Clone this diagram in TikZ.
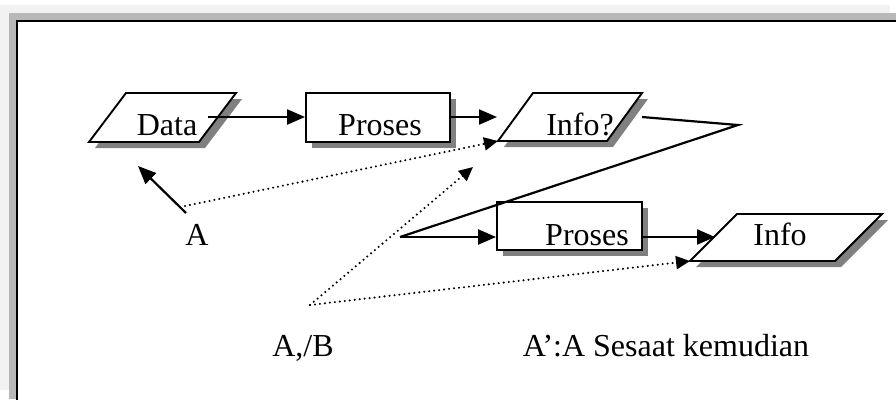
\documentclass[tikz,border=0pt]{standalone}
\usepackage{fontspec}
\setmainfont{Liberation Serif}
\usetikzlibrary{arrows.meta}

% parallelogram with drop shadow: name, bottom-left x, bottom y, width, slant, height
\newcommand\pgram[6]{%
  \coordinate (#1-bl) at (#2,#3);
  \coordinate (#1-br) at (#2+#4,#3);
  \coordinate (#1-tr) at (#2+#4+#5,#3-#6);
  \coordinate (#1-tl) at (#2+#5,#3-#6);
  \fill[shade] ([shift={(6,6)}]#1-bl) -- ([shift={(6,6)}]#1-br) --
    ([shift={(6,6)}]#1-tr) -- ([shift={(6,6)}]#1-tl) -- cycle;
  \filldraw[shapeline] (#1-bl) -- (#1-br) -- (#1-tr) -- (#1-tl) -- cycle;
}

\tikzset{
  shade/.style={fill=black!50},
  shapeline/.style={fill=white, draw=black, line width=1.9pt, line join=miter},
  procbox/.style={draw=black, fill=white, line width=1.9pt, inner sep=0pt,
    minimum width=144pt, minimum height=49pt},
  lbl/.style={inner sep=0pt, anchor=base, font=\fontsize{32}{38}\selectfont},
  flow/.style={line width=2.2pt, -{Triangle[length=18pt,width=15pt]}},
  link/.style={line width=2.3pt, line cap=round, dash pattern=on 0pt off 5pt,
    -{Triangle[length=14pt,width=13pt]}},
}

\begin{document}
\begin{tikzpicture}[x=1pt, y=-1pt]
\useasboundingbox (0,0) rectangle (896,399);

% frame
\fill[black!5] (0,5) rectangle (890,390);
\fill[black!28] (9,13) rectangle (896,399);
\filldraw[fill=white, draw=black, line width=1.8pt] (17,21) rectangle (900,405);

% shapes
\pgram{data}{89}{142}{110}{37}{49}
\fill[shade] (312,99) rectangle (456,148);
\node[procbox] (p1) at (378,117.5) {};
\pgram{infq}{498}{141}{109}{35}{48}
\fill[shade] (503,208) rectangle (648,256);
\node[procbox, minimum width=145pt, minimum height=48pt] (p2) at (569.5,226) {};
\pgram{info}{690}{261}{145}{47}{47}

% texts
\node[lbl] (tdata) at (167,135) {Data};
\node[lbl] (tp1) at (380,135) {Proses};
\node[lbl] (tinfq) at (580,135) {Info?};
\node[lbl] (tp2) at (587,245) {Proses};
\node[lbl] (tinfo) at (780,245) {Info};
\node[lbl] (ta) at (197,245) {A};
\node[lbl] (tab) at (303,356) {A,/B};
\node[lbl] (tnote) at (666,356) {A’:A Sesaat kemudian};

% connector end points
\coordinate (dataout) at (208,117);
\coordinate (infqin) at (497,117);
\coordinate (infqout) at (642,117);
\coordinate (turn) at (738,125);
\coordinate (fork) at (400,237);
\coordinate (infoin) at (715,237);
\coordinate (atail) at (186,213);
\coordinate (ahead) at (138,166);
\coordinate (adot) at (185,206);
\coordinate (abdot) at (310,305);
\coordinate (midtip) at (473,167);

% solid flow
\draw[flow] (dataout) -- (p1.west |- dataout);
\draw[flow] (p1.east |- infqin) -- (infqin);
\draw[line width=2.2pt, line join=miter] (infqout) -- (turn) -- (fork);
\draw[flow] (fork) -- (p2.west |- fork);
\draw[flow] (p2.east |- fork) -- (infoin);
\draw[flow] (atail) -- (ahead);

% dotted links
\draw[link] (adot) -- (infq-bl);
\draw[link] (abdot) -- (midtip);
\draw[link] (abdot) -- (info-bl);
\end{tikzpicture}
\end{document}
